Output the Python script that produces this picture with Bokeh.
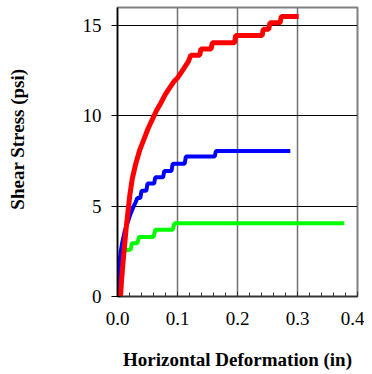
import math
from bokeh.plotting import figure
from bokeh.layouts import row
from bokeh.models import Range1d, FixedTicker, NumeralTickFormatter
from bokeh.core.properties import value
from bokeh.embed import file_html
from bokeh.resources import INLINE

# Data
red_x = [0.005, 0.007, 0.0095, 0.012, 0.0145, 0.0175, 0.0205, 0.0245, 0.030, 0.037, 0.044, 0.051,
         0.058, 0.065, 0.072, 0.080, 0.088, 0.094, 0.100, 0.106, 0.112, 0.118, 0.122, 0.137,
         0.139, 0.156, 0.158, 0.195, 0.197, 0.241, 0.243, 0.252, 0.254, 0.271, 0.273, 0.302]
red_y = [0, 1.0, 2.0, 2.9, 3.8, 4.7, 5.6, 6.5, 7.3, 8.1, 8.7, 9.3,
         9.8, 10.3, 10.7, 11.2, 11.6, 11.9, 12.1, 12.4, 12.7, 13.0, 13.35, 13.35,
         13.7, 13.7, 14.05, 14.05, 14.45, 14.45, 14.8, 14.8, 15.15, 15.15, 15.5, 15.5]

blue_x = [0, 0.002, 0.005, 0.008, 0.012, 0.017, 0.022, 0.027, 0.030, 0.033, 0.038, 0.040, 0.048,
          0.050, 0.061, 0.063, 0.076, 0.078, 0.090, 0.092, 0.112, 0.114, 0.162, 0.164, 0.288]
blue_y = [0, 1.4, 2.4, 3.0, 3.6, 4.1, 4.6, 5.0, 5.2, 5.45, 5.45, 5.85, 5.85,
          6.25, 6.25, 6.6, 6.6, 6.95, 6.95, 7.35, 7.35, 7.75, 7.75, 8.05, 8.05]

green_x = [0, 0.001, 0.003, 0.006, 0.010, 0.013, 0.022, 0.024, 0.033, 0.036, 0.060, 0.063,
           0.092, 0.095, 0.378]
green_y = [0, 1.2, 1.8, 2.1, 2.4, 2.55, 2.6, 2.95, 2.95, 3.3, 3.3, 3.7,
           3.7, 4.05, 4.05]

x_ticks = [0.0, 0.1, 0.2, 0.3, 0.4]
y_ticks = [0, 5, 10, 15]
y_title = ["Shear Stress (psi)"]
x_title = "Horizontal Deformation (in)"

FONT = "Liberation Serif"
H = 372
LW = 30
TOP = 7
BOTTOM = 73

# narrow panel holding the vertical y-axis title; its frame is aligned with the main
# frame, and its range maps one data unit to one pixel (data y = H - page y)
lf = figure(width=LW, height=H, output_backend="svg", toolbar_location=None,
            x_range=Range1d(0, LW), y_range=Range1d(BOTTOM, H - TOP),
            x_axis_location=None, y_axis_location=None,
            min_border_left=0, min_border_right=0, min_border_top=TOP, min_border_bottom=BOTTOM)
lf.outline_line_color = None
lf.grid.grid_line_color = None
lf.text(x=[17], y=[H - 140], text=y_title, angle=math.pi / 2,
        text_align="center", text_baseline="middle",
        text_font=value(FONT), text_font_size="19px", text_font_style="bold",
        text_color="black")

p = figure(width=364 - LW, height=H, output_backend="svg", toolbar_location=None,
           x_range=Range1d(0, 0.4), y_range=Range1d(0, 16),
           min_border_left=117 - LW, min_border_right=7, min_border_top=TOP, min_border_bottom=BOTTOM)

p.outline_line_color = "#808080"
p.outline_line_width = 2

p.xgrid.ticker = FixedTicker(ticks=x_ticks)
p.xgrid.grid_line_color = "#707070"
p.xgrid.grid_line_width = 1.5
p.ygrid.ticker = FixedTicker(ticks=y_ticks)
p.ygrid.grid_line_color = "black"
p.ygrid.grid_line_width = 1

p.line(green_x, green_y, line_color="#00ff00", line_width=4)
p.line(blue_x, blue_y, line_color="#0000ff", line_width=4)
p.line(red_x, red_y, line_color="#ff0000", line_width=5)

xa = p.xaxis[0]
xa.ticker = FixedTicker(ticks=x_ticks,
                        minor_ticks=[i * 0.02 for i in range(21)])
xa.formatter = NumeralTickFormatter(format="0.0")
xa.major_tick_in = 5
xa.major_tick_out = 0
xa.minor_tick_in = 4
xa.minor_tick_out = 0
xa.axis_line_color = "#303030"
xa.axis_line_width = 1.5
xa.major_tick_line_color = "#303030"
xa.minor_tick_line_color = "#303030"
xa.major_label_text_font = FONT
xa.major_label_text_font_size = "19px"
xa.major_label_text_color = "black"
xa.major_label_standoff = 15
xa.axis_label = x_title
xa.axis_label_text_font = FONT
xa.axis_label_text_font_size = "19px"
xa.axis_label_text_font_style = "bold"
xa.axis_label_text_color = "black"
xa.axis_label_standoff = 21

ya = p.yaxis[0]
ya.ticker = FixedTicker(ticks=y_ticks)
ya.major_tick_in = 3
ya.major_tick_out = 6
ya.minor_tick_line_color = None
ya.axis_line_color = "black"
ya.axis_line_width = 1.5
ya.major_tick_line_color = "black"
ya.major_label_text_font = FONT
ya.major_label_text_font_size = "19px"
ya.major_label_text_color = "black"
ya.major_label_standoff = 10

layout = row(lf, p, spacing=0)
open("out.html", "w").write(file_html(layout, INLINE))
